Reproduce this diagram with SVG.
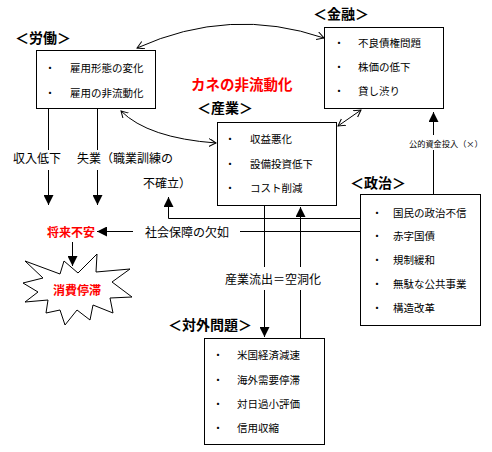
<svg xmlns="http://www.w3.org/2000/svg" width="492" height="452" viewBox="0 0 492 452">
<defs>
<style>
text{font-family:"Noto Sans CJK JP","Noto Sans CJK SC",sans-serif;fill:#000;dominant-baseline:central}
.it{font-size:10.5px}
.lb{font-size:12px}
.tt{font-size:14px;font-weight:bold}
.red{fill:#ff0000;font-weight:bold}
.box{fill:#fff;stroke:#000;stroke-width:1}
.ln{fill:none;stroke:#000;stroke-width:1}
.ar{marker-end:url(#tri)}
.cv{fill:none;stroke:#000;stroke-width:1;marker-start:url(#open);marker-end:url(#open)}
</style>
<marker id="tri" markerUnits="userSpaceOnUse" markerWidth="10" markerHeight="10" refX="10" refY="5" orient="auto">
<path d="M0,0 L10,5 L0,10 z" fill="#000"/>
</marker>
<marker id="open" markerUnits="userSpaceOnUse" markerWidth="9" markerHeight="9" refX="7" refY="4" orient="auto-start-reverse">
<path d="M0,0 L7,4 L0,8" fill="none" stroke="#000" stroke-width="1"/>
</marker>
</defs>
<rect width="492" height="452" fill="#fff"/>

<g id="connectors">
<path class="cv" d="M137,48 Q230,6 324,38"/>
<path class="cv" d="M121,111 Q148,138 216,143"/>
<path class="cv" d="M361,110 L338,126"/>
<path class="ln" d="M48.5,109 V150"/>
<path class="ln ar" d="M48.5,170 V205"/>
<path class="ln" d="M97.5,109 V150"/>
<path class="ln ar" d="M97.5,170 V205"/>
<path class="ln ar" d="M360,218.5 H168.5 V197"/>
<path class="ln" d="M360,231.5 H240"/>
<path class="ln ar" d="M133,231.5 H97"/>
<path class="ln ar" d="M72.5,242 V266"/>
<path class="ln" d="M264.5,205 V267"/>
<path class="ln ar" d="M264.5,290 V337"/>
<path class="ln" d="M300.5,338 V290"/>
<path class="ln ar" d="M300.5,267 V207"/>
<path class="ln" d="M433.5,194 V150"/>
<path class="ln ar" d="M433.5,135 V112"/>
</g>

<g id="rodo">
<text class="tt" x="15" y="37">＜労働＞</text>
<rect class="box" x="36.5" y="50.5" width="119" height="58"/>
<text class="it" x="50" y="67" text-anchor="middle">・</text>
<text class="it" x="70" y="67">雇用形態の変化</text>
<text class="it" x="50" y="92" text-anchor="middle">・</text>
<text class="it" x="70" y="92">雇用の非流動化</text>
</g>

<g id="kinyu">
<text class="tt" x="313" y="13">＜金融＞</text>
<rect class="box" x="324.5" y="27.5" width="119" height="81"/>
<text class="it" x="339" y="42" text-anchor="middle">・</text>
<text class="it" x="358" y="42">不良債権問題</text>
<text class="it" x="339" y="66" text-anchor="middle">・</text>
<text class="it" x="358" y="66">株価の低下</text>
<text class="it" x="339" y="90" text-anchor="middle">・</text>
<text class="it" x="358" y="90">貸し渋り</text>
</g>

<g id="kane">
<text class="tt red" x="191" y="83" style="font-size:14.5px">カネの非流動化</text>
</g>

<g id="sangyo">
<text class="tt" x="197" y="107">＜産業＞</text>
<rect class="box" x="217.5" y="122.5" width="119" height="83"/>
<text class="it" x="230" y="138" text-anchor="middle">・</text>
<text class="it" x="250" y="138">収益悪化</text>
<text class="it" x="230" y="163" text-anchor="middle">・</text>
<text class="it" x="250" y="163">設備投資低下</text>
<text class="it" x="230" y="187" text-anchor="middle">・</text>
<text class="it" x="250" y="187">コスト削減</text>
</g>

<g id="seiji">
<text class="tt" x="350" y="182">＜政治＞</text>
<rect class="box" x="360.5" y="194.5" width="120" height="131"/>
<text class="it" x="377" y="212" text-anchor="middle">・</text>
<text class="it" x="393" y="212">国民の政治不信</text>
<text class="it" x="377" y="235" text-anchor="middle">・</text>
<text class="it" x="393" y="235">赤字国債</text>
<text class="it" x="377" y="259" text-anchor="middle">・</text>
<text class="it" x="393" y="259">規制緩和</text>
<text class="it" x="377" y="283" text-anchor="middle">・</text>
<text class="it" x="393" y="283">無駄な公共事業</text>
<text class="it" x="377" y="307" text-anchor="middle">・</text>
<text class="it" x="393" y="307">構造改革</text>
</g>

<g id="taigai">
<text class="tt" x="168" y="324">＜対外問題＞</text>
<rect class="box" x="204.5" y="338.5" width="120" height="106"/>
<text class="it" x="218" y="354" text-anchor="middle">・</text>
<text class="it" x="237" y="354">米国経済減速</text>
<text class="it" x="218" y="379" text-anchor="middle">・</text>
<text class="it" x="237" y="379">海外需要停滞</text>
<text class="it" x="218" y="403" text-anchor="middle">・</text>
<text class="it" x="237" y="403">対日過小評価</text>
<text class="it" x="218" y="427" text-anchor="middle">・</text>
<text class="it" x="237" y="427">信用収縮</text>
</g>

<g id="labels">
<text class="lb" x="13" y="157">収入低下</text>
<text class="lb" x="77" y="157">失業（職業訓練の</text>
<text class="lb" x="143" y="182">不確立）</text>
<text class="lb" x="145" y="231">社会保障の欠如</text>
<text class="lb" x="225" y="278">産業流出＝空洞化</text>
<text x="409" y="143" style="font-size:8.2px">公的資金投入（×）</text>
</g>

<g id="shorai">
<text class="red" x="47" y="231" style="font-size:12px">将来不安</text>
</g>

<g id="shohi">
<polygon class="box" points="25,261 60,274 64,261 78,273 97,254 96,272 130,269 112,282 132,297 110,298 113,313 93,305 90,320 77,310 65,325 60,310 46,313 48,300 25,302 38,292 23,283 43,278"/>
<text class="red" x="53" y="289" style="font-size:12px">消費停滞</text>
</g>
</svg>
